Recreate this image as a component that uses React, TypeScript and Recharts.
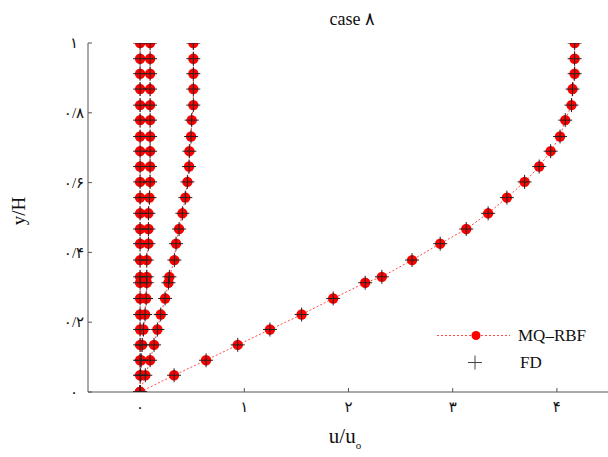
import React from "react";
import { ScatterChart, Scatter, XAxis, YAxis } from "recharts";

// y/H levels shared by all profiles (bottom to top)
const yLevels = [
  0, 0.048, 0.091, 0.135, 0.179, 0.222, 0.268, 0.313, 0.33, 0.378, 0.425,
  0.467, 0.512, 0.557, 0.602, 0.646, 0.69, 0.732, 0.779, 0.822, 0.868, 0.912,
  0.955, 1,
];

// u/u0 profiles, MQ-RBF
const uWall = [
  0, 0, 0, 0, 0, 0, 0, 0, 0, 0, 0, 0, 0, 0, 0, 0, 0, 0, 0, 0, 0, 0, 0, 0,
];
const uNear = [
  0, 0.005, 0.01, 0.02, 0.032, 0.048, 0.058, 0.064, 0.064, 0.064, 0.08, 0.08,
  0.08, 0.09, 0.096, 0.096, 0.096, 0.096, 0.096, 0.096, 0.096, 0.096, 0.096,
  0.096,
];
const uMid = [
  0, 0.05, 0.096, 0.134, 0.166, 0.198, 0.24, 0.272, 0.281, 0.329, 0.345, 0.374,
  0.406, 0.434, 0.454, 0.47, 0.473, 0.489, 0.495, 0.511, 0.511, 0.511, 0.511,
  0.511,
];
const uCore = [
  0, 0.326, 0.633, 0.937, 1.246, 1.55, 1.853, 2.16, 2.32, 2.61, 2.88, 3.13,
  3.34, 3.52, 3.69, 3.83, 3.94, 4.03, 4.08, 4.14, 4.15, 4.17, 4.17, 4.17,
];

// FD results sit on the same points
const fdWall = uWall;
const fdNear = uNear;
const fdMid = uMid;
const fdCore = uCore;

const xTicks = [0, 1, 2, 3, 4];
const xTickLabels = ["۰", "۱", "۲", "۳", "۴"];
const yTicks = [0, 0.2, 0.4, 0.6, 0.8, 1];
const yTickLabels = ["۰", "۰/۲", "۰/۴", "۰/۶", "۰/۸", "۱"];

const FONT = "'Liberation Serif', 'DejaVu Serif', 'DejaVu Sans', serif";
const AXIS = "#555";

const toPoints = (us: number[]) => us.map((u, i) => ({ u, y: yLevels[i] }));

const Dot = (props: any) => (
  <circle cx={props.cx} cy={props.cy} r={5.2} fill="#ff0000" />
);

const Plus = (props: any) => {
  const { cx, cy } = props;
  return (
    <g stroke="#222" strokeWidth={1}>
      <line x1={cx - 7} x2={cx + 7} y1={cy} y2={cy} />
      <line x1={cx} x2={cx} y1={cy - 7} y2={cy + 7} />
    </g>
  );
};

const XTick = (props: any) => {
  const { x, y, payload } = props;
  const label = xTickLabels[xTicks.indexOf(payload.value)];
  return (
    <text x={x} y={y} dy="0.35em" textAnchor="middle" fontSize={15} fontFamily={FONT} fill="#111">
      {label}
    </text>
  );
};

const YTick = (props: any) => {
  const { x, y, payload } = props;
  const label = yTickLabels[yTicks.indexOf(payload.value)];
  return (
    <text x={x} y={y} dy="0.35em" textAnchor="middle" fontSize={15} fontFamily={FONT} fill="#111">
      {label}
    </text>
  );
};

const mqLine = { stroke: "#ff4a4a", strokeWidth: 1, strokeDasharray: "2 2" };

const App = () => {
  const mq = [uWall, uNear, uMid, uCore];
  const fd = [fdWall, fdNear, fdMid, fdCore];
  return (
    <div
      style={{
        position: "absolute",
        left: 0,
        top: 0,
        width: 608,
        height: 457,
        overflow: "hidden",
        background: "#fff",
      }}
    >
      <ScatterChart
        width={620}
        height={457}
        margin={{ top: 43, right: 11, left: 28, bottom: 35 }}
      >
        <XAxis
          dataKey="u"
          type="number"
          domain={[-0.5, 4.5]}
          ticks={xTicks}
          allowDataOverflow
          height={30}
          stroke={AXIS}
          tickSize={-4}
          tickMargin={19}
          tick={<XTick />}
        />
        <XAxis
          xAxisId="top"
          orientation="top"
          type="number"
          domain={[-0.5, 4.5]}
          ticks={xTicks}
          allowDataOverflow
          height={0}
          stroke={AXIS}
          tickSize={-4}
          tickFormatter={() => ""}
        />
        <YAxis
          dataKey="y"
          type="number"
          domain={[0, 1]}
          ticks={yTicks}
          allowDataOverflow
          width={60}
          stroke={AXIS}
          tickSize={-4}
          tickMargin={18}
          tick={<YTick />}
        />
        <YAxis
          yAxisId="right"
          orientation="right"
          type="number"
          domain={[0, 1]}
          ticks={yTicks}
          allowDataOverflow
          width={0}
          stroke={AXIS}
          tickSize={-4}
          tickFormatter={() => ""}
        />
        {mq.map((us, i) => (
          <Scatter
            key={"mq" + i}
            name="MQ–RBF"
            data={toPoints(us)}
            line={mqLine}
            lineType="joint"
            shape={<Dot />}
            isAnimationActive={false}
          />
        ))}
        {fd.map((us, i) => (
          <Scatter
            key={"fd" + i}
            name="FD"
            data={toPoints(us)}
            shape={<Plus />}
            isAnimationActive={false}
          />
        ))}
        <text x={352} y={25} textAnchor="middle" fontSize={18} fontFamily={FONT} fill="#111">
          case ۸
        </text>
        <text
          x={0}
          y={0}
          transform="translate(25,211) rotate(-90)"
          textAnchor="middle"
          fontSize={19}
          fontFamily={FONT}
          fill="#111"
        >
          y/H
        </text>
        <text x={345} y={443} textAnchor="middle" fontSize={21} fontFamily={FONT} fill="#111">
          u/u
          <tspan fontSize={11} dy={6}>o</tspan>
        </text>
      </ScatterChart>
      <div
        style={{
          position: "absolute",
          left: 434,
          top: 322,
          fontFamily: FONT,
          fontSize: 17,
          color: "#111",
          lineHeight: "27px",
        }}
      >
        <div style={{ display: "flex", alignItems: "center" }}>
          <svg width={80} height={27}>
            <line x1={3} x2={76} y1={13.5} y2={13.5} {...mqLine} />
            <circle cx={42} cy={13.5} r={4.5} fill="#ff0000" />
          </svg>
          <span style={{ marginLeft: 4 }}>MQ–RBF</span>
        </div>
        <div style={{ display: "flex", alignItems: "center" }}>
          <svg width={80} height={27}>
            <g stroke="#444" strokeWidth={1}>
              <line x1={34} x2={48} y1={13.5} y2={13.5} />
              <line x1={41} x2={41} y1={6.5} y2={20.5} />
            </g>
          </svg>
          <span style={{ marginLeft: 6 }}>FD</span>
        </div>
      </div>
    </div>
  );
};

export default App;
